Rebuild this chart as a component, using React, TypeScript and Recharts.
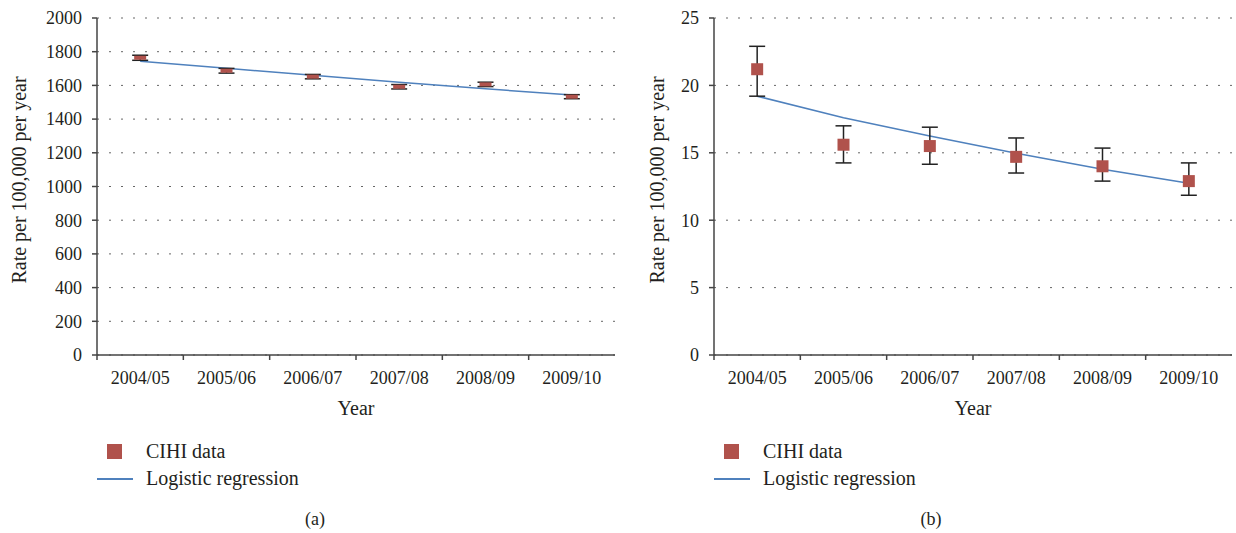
import React from 'react';
import {
  ComposedChart,
  Line,
  Scatter,
  ErrorBar,
  XAxis,
  YAxis,
  CartesianGrid,
} from 'recharts';

const years = ['2004/05', '2005/06', '2006/07', '2007/08', '2008/09', '2009/10'];

// panel (a)
const ratesA = [1764, 1687, 1652, 1592, 1606, 1533];
const errA = [15, 14, 13, 13, 13, 12];
const fitA = [1743, 1702, 1660, 1619, 1580, 1543];
const ticksA = [0, 200, 400, 600, 800, 1000, 1200, 1400, 1600, 1800, 2000];

// panel (b)
const ratesB = [21.2, 15.6, 15.5, 14.7, 14.0, 12.9];
const lowB = [19.2, 14.25, 14.15, 13.5, 12.9, 11.85];
const highB = [22.9, 17.0, 16.9, 16.1, 15.35, 14.25];
const fitB = [19.2, 17.6, 16.24, 14.96, 13.78, 12.74];
const ticksB = [0, 5, 10, 15, 20, 25];

const dataA = years.map((year, i) => ({
  year,
  rate: ratesA[i],
  err: [errA[i], errA[i]],
  fit: fitA[i],
}));

const dataB = years.map((year, i) => ({
  year,
  rate: ratesB[i],
  err: [ratesB[i] - lowB[i], highB[i] - ratesB[i]],
  fit: fitB[i],
}));

const FONT = '"Liberation Serif", "Times New Roman", serif';
const TEXT = '#231f20';
const AXIS = '#444';
const RED = '#b0524c';
const BLUE = '#4f81bd';

const XTick = (props: any) => {
  const { x, y, payload } = props;
  const off = payload && payload.offset ? payload.offset : 43;
  return (
    <g>
      <line x1={x - off} x2={x - off} y1={y} y2={y + 5} stroke={AXIS} strokeWidth={1.5} />
      <text
        x={x}
        y={y + 23}
        textAnchor="middle"
        dominantBaseline="central"
        fontFamily={FONT}
        fontSize={18}
        fill={TEXT}
      >
        {payload.value}
      </text>
    </g>
  );
};

const Panel = ({
  data,
  ticks,
  max,
  labelX,
  small,
}: {
  data: any[];
  ticks: number[];
  max: number;
  labelX: number;
  small: boolean;
}) => {
  const marker = (p: any) =>
    small ? (
      <rect x={p.cx - 6} y={p.cy - 2} width={12} height={4} fill={RED} />
    ) : (
      <rect x={p.cx - 6} y={p.cy - 6} width={12} height={12} fill={RED} />
    );

  return (
    <ComposedChart
      width={620}
      height={430}
      data={data}
      margin={{ top: 18, right: 5, left: 0, bottom: 15 }}
    >
      <CartesianGrid vertical={false} stroke="#666" strokeDasharray="2 10" />
      <XAxis
        dataKey="year"
        scale="band"
        height={60}
        tickSize={0}
        tickMargin={0}
        tickLine={false}
        axisLine={{ stroke: AXIS, strokeWidth: 1.5 }}
        tick={<XTick />}
        interval={0}
        label={{
          content: (p: any) => {
            const vb = p.viewBox;
            return (
              <text
                x={vb.x + vb.width / 2}
                y={vb.y + 53}
                textAnchor="middle"
                dominantBaseline="central"
                fontFamily={FONT}
                fontSize={20}
                fill={TEXT}
              >
                Year
              </text>
            );
          },
        }}
      />
      <YAxis
        width={97}
        domain={[0, max]}
        ticks={ticks}
        interval={0}
        tickSize={5}
        tickMargin={10}
        tickLine={{ stroke: AXIS, strokeWidth: 1.5 }}
        axisLine={{ stroke: AXIS, strokeWidth: 1.5 }}
        tick={{ fontFamily: FONT, fontSize: 18, fill: TEXT }}
        label={{
          content: () => (
            <text
              x={labelX}
              y={180}
              transform={`rotate(-90 ${labelX} 180)`}
              textAnchor="middle"
              dominantBaseline="central"
              fontFamily={FONT}
              fontSize={20}
              fill={TEXT}
            >
              Rate per 100,000 per year
            </text>
          ),
        }}
      />
      <Line
        dataKey="fit"
        stroke={BLUE}
        strokeWidth={1.5}
        dot={false}
        activeDot={false}
        isAnimationActive={false}
      />
      <Scatter dataKey="rate" fill={RED} shape={marker} isAnimationActive={false}>
        <ErrorBar dataKey="err" direction="y" width={8} stroke="#222" strokeWidth={1.5} />
      </Scatter>
    </ComposedChart>
  );
};

const Legend = ({ left }: { left: number }) => (
  <div style={{ position: 'absolute', left, top: 436, fontFamily: FONT, fontSize: 20, color: TEXT }}>
    <div style={{ position: 'absolute', left: 10, top: 8, width: 15, height: 15, background: RED }} />
    <div style={{ position: 'absolute', left: 49, top: 2, whiteSpace: 'nowrap', lineHeight: '26px' }}>
      CIHI data
    </div>
    <div style={{ position: 'absolute', left: 0, top: 42, width: 36, height: 1.5, background: BLUE }} />
    <div style={{ position: 'absolute', left: 49, top: 29, whiteSpace: 'nowrap', lineHeight: '26px' }}>
      Logistic regression
    </div>
  </div>
);

const Caption = ({ x, text }: { x: number; text: string }) => (
  <div
    style={{
      position: 'absolute',
      left: x - 30,
      width: 60,
      top: 508,
      textAlign: 'center',
      fontFamily: FONT,
      fontSize: 18,
      lineHeight: '22px',
      color: TEXT,
    }}
  >
    {text}
  </div>
);

export default function App() {
  return (
    <div
      style={{
        position: 'absolute',
        left: 0,
        top: 0,
        width: 1236,
        height: 533,
        background: '#fff',
        overflow: 'hidden',
      }}
    >
      <div style={{ position: 'absolute', left: 0, top: 0 }}>
        <Panel data={dataA} ticks={ticksA} max={2000} labelX={19} small={true} />
      </div>
      <div style={{ position: 'absolute', left: 617, top: 0 }}>
        <Panel data={dataB} ticks={ticksB} max={25} labelX={40} small={false} />
      </div>
      <Legend left={97} />
      <Legend left={714} />
      <Caption x={315} text="(a)" />
      <Caption x={931} text="(b)" />
    </div>
  );
}
